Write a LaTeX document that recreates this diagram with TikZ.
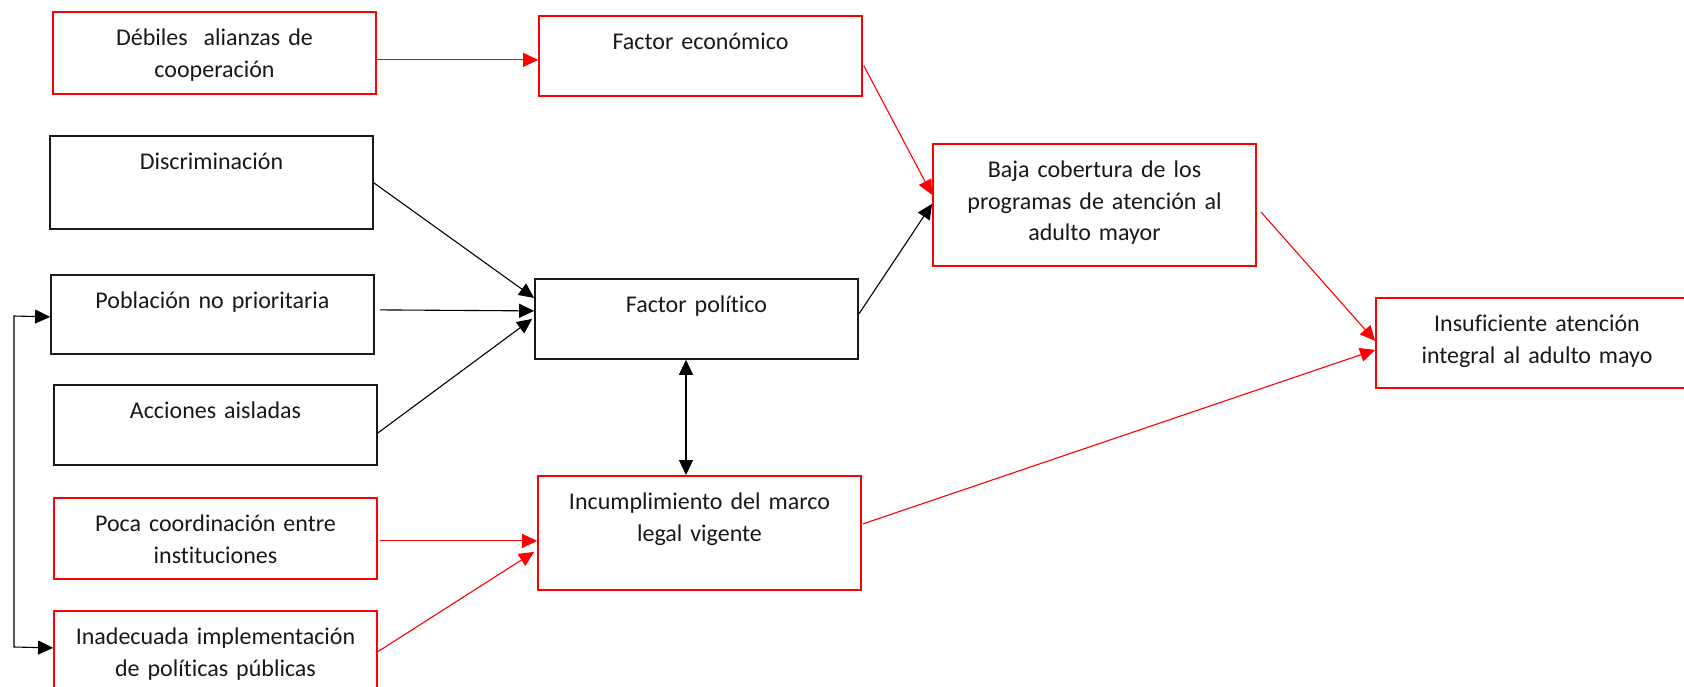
\documentclass[tikz,border=0pt]{standalone}
\usepackage{fontspec}
\setmainfont{Carlito}[Ligatures=NoCommon]
\usetikzlibrary{arrows.meta,calc}
\begin{document}
\begin{tikzpicture}[x=0.5pt,y=-0.5pt,
  bx/.style={draw, rectangle, inner sep=0pt, anchor=north, align=center,
    text width=161.5pt, text height=17pt, text=black!90,
    font=\fontsize{12}{15.6}\selectfont, line width=0.9pt},
  blk/.style={bx, draw=black!90},
  rd/.style={bx, draw=red},
  con/.style={line width=0.55pt, -{Triangle[length=7.5pt,width=7pt]}},
  dcon/.style={line width=0.55pt, {Triangle[length=7.5pt,width=7pt]}-{Triangle[length=7.5pt,width=7pt]}},
  rcon/.style={con, draw=red},
  kcon/.style={con, draw=black}
]
\clip (0,0) rectangle (1684,686);
\fill[white] (0,0) rectangle (1684,686);

\node[rd,  text depth=24pt]   (deb)  at (214.5,11)  {Débiles~ alianzas de\\cooperación};
\node[rd,  text depth=23pt]   (fe)   at (700.5,15)  {Factor económico};
\node[blk, text depth=29.5pt] (dis)  at (211.5,135) {Discriminación};
\node[blk, text depth=22.5pt] (pob)  at (212.5,274) {Población no prioritaria};
\node[blk, text depth=23pt]   (acc)  at (215.5,384) {Acciones aisladas};
\node[rd,  text depth=23.5pt] (poca) at (215.5,497) {Poca coordinación entre\\instituciones};
\node[rd,  text depth=24pt]   (inad) at (215.5,610) {Inadecuada implementación\\de políticas públicas};
\node[blk, text depth=23pt]   (fp)   at (696.5,278) {Factor político};
\node[rd,  text depth=40pt]   (inc)  at (699.5,475) {Incumplimiento del marco\\legal vigente};
\node[rd,  text depth=44pt]   (baja) at (1094.5,143) {Baja cobertura de los\\programas de atención al\\adulto mayor};
\node[rd,  text depth=28pt, text width=161pt] (ins) at (1537,297) {Insuficiente atención\\integral al adulto mayo};

% red connectors
\draw[rcon] ($(deb.east)+(0,7)$) -- ($(fe.west)+(0,4)$);
\draw[rcon] ($(fe.east)+(1,10)$) -- ($(baja.west)+(0,-10)$);
\draw[rcon] ($(poca.east)+(2,2.5)$) -- ($(inc.west)+(0,8)$);
\draw[rcon] ($(inad.east)+(-2,1)$) -- ($(inc.west)+(-3,19)$);
\draw[rcon] ($(baja.east)+(4,7)$) -- ($(ins.west)+(0,-2)$);
\draw[rcon] ($(inc.east)+(1,-9)$) -- ($(ins.west)+(0,7)$);

% black connectors
\draw[kcon] ($(dis.east)+(0,0.5)$) -- ($(fp.west)+(0,-21)$);
\draw[kcon] ($(pob.east)+(5,-4.5)$) -- ($(fp.west)+(0,-8)$);
\draw[kcon] ($(acc.east)+(0,8)$) -- ($(fp.west)+(-2,0)$);
\draw[kcon] ($(fp.east)+(0,-5)$) -- ($(baja.west)+(0,-1)$);
\draw[dcon] ($(fp.south)+(-10.5,0)$) -- ($(inc.north)+(-13.5,0)$);

\coordinate (l1) at (14,316);
\coordinate (l2) at (14,647);
\draw[dcon] ($(pob.west)+(0,2.5)$) -- (l1) -- (l2) -- ($(inad.west)+(0,-4)$);
\end{tikzpicture}
\end{document}
